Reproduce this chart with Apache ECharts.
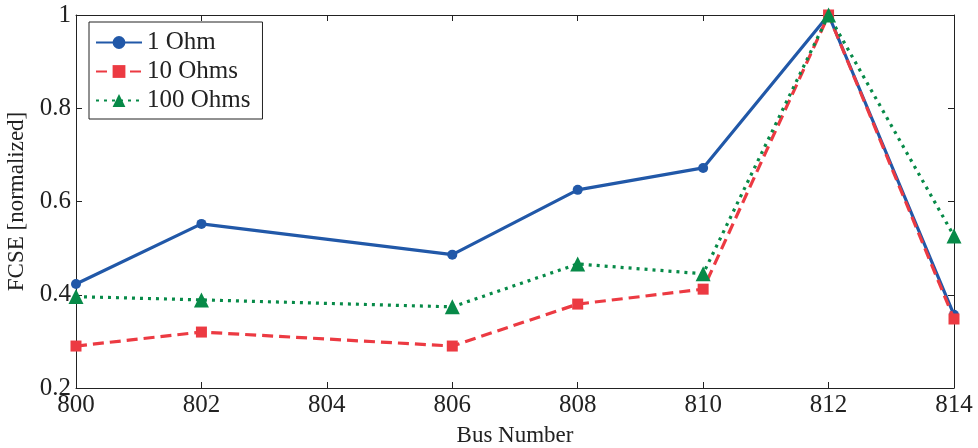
<!DOCTYPE html>
<html><head><meta charset="utf-8">
<script src="https://cdn.jsdelivr.net/npm/echarts@6/dist/echarts.min.js"></script>
<style>html,body{margin:0;padding:0;background:#fff}#c{width:978px;height:448px}</style>
</head><body><div id="c"></div>
<script>
const buses = [800, 802, 806, 808, 810, 812, 814];
const ohm1 = [0.423, 0.552, 0.486, 0.625, 0.672, 1.0, 0.357];
const ohm10 = [0.290, 0.320, 0.290, 0.380, 0.412, 1.0, 0.348];
const ohm100 = [0.396, 0.389, 0.374, 0.466, 0.445, 1.0, 0.526];
const xTicks = [800, 802, 804, 806, 808, 810, 812, 814];
const yTicks = [0.2, 0.4, 0.6, 0.8, 1];

const F = 'Liberation Serif';
const pair = a => buses.map((b, i) => [b, a[i]]);
const chart = echarts.init(document.getElementById('c'));
const tickStyle = {show: true, inside: true, length: 6, lineStyle: {color: '#222', width: 1}};
chart.setOption({
  animation: false,
  grid: {left: 76, right: 24, top: 15, bottom: 60, show: false, containLabel: false, outerBoundsMode: 'none'},
  legend: {
    left: 89, top: 22, orient: 'vertical', itemWidth: 46, itemHeight: 16, itemGap: 4,
    padding: [8, 12, 6, 6], borderColor: '#222', borderWidth: 1, backgroundColor: '#fff',
    textStyle: {fontFamily: F, fontSize: 25, color: '#222', lineHeight: 25},
    data: ['1 Ohm', '10 Ohms', '100 Ohms']
  },
  xAxis: [{
    type: 'value', min: 800, max: 814, interval: 2,
    name: 'Bus Number', nameLocation: 'middle', nameGap: 36,
    nameTextStyle: {fontFamily: F, fontSize: 23, color: '#222'},
    axisLine: {lineStyle: {color: '#222', width: 1}}, axisTick: tickStyle,
    axisLabel: {fontFamily: F, fontSize: 25, color: '#222', margin: 5},
    splitLine: {show: false}
  }, {
    type: 'value', min: 800, max: 814, interval: 2, position: 'top',
    axisLine: {show: true, lineStyle: {color: '#222', width: 1}}, axisTick: tickStyle,
    axisLabel: {show: false}, splitLine: {show: false}
  }],
  yAxis: [{
    type: 'value', min: 0.2, max: 1, interval: 0.2,
    name: 'FCSE [normalized]', nameLocation: 'middle', nameGap: 46,
    nameTextStyle: {fontFamily: F, fontSize: 23, color: '#222'},
    axisLine: {show: true, lineStyle: {color: '#222', width: 1}}, axisTick: tickStyle,
    axisLabel: {fontFamily: F, fontSize: 25, color: '#222', margin: 5,
      formatter: v => (Math.abs(v - 1) < 1e-9 ? '1' : v.toFixed(1))},
    splitLine: {show: false}
  }, {
    type: 'value', min: 0.2, max: 1, interval: 0.2, position: 'right',
    axisLine: {show: true, lineStyle: {color: '#222', width: 1}}, axisTick: tickStyle,
    axisLabel: {show: false}, splitLine: {show: false}
  }],
  series: [
    {name: '1 Ohm', type: 'line', data: pair(ohm1), symbol: 'circle', symbolSize: 10,
      itemStyle: {color: '#2158a8'}, lineStyle: {color: '#2158a8', width: 3.2}, z: 3},
    {name: '10 Ohms', type: 'line', data: pair(ohm10), symbol: 'rect', symbolSize: 11,
      itemStyle: {color: '#ec3a42'}, lineStyle: {color: '#ec3a42', width: 3.2, type: [11, 6]}, z: 4},
    {name: '100 Ohms', type: 'line', data: pair(ohm100), symbol: 'triangle', symbolSize: 15,
      itemStyle: {color: '#078a48'}, lineStyle: {color: '#078a48', width: 3.2, type: [3, 5]}, z: 5}
  ]
});
</script></body></html>
